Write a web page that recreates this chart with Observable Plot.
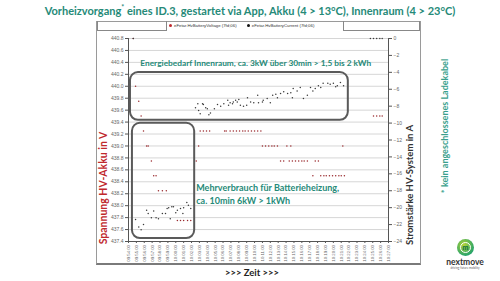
<!DOCTYPE html>
<html><head><meta charset="utf-8">
<script src="https://cdn.jsdelivr.net/npm/d3@7"></script>
<script src="https://cdn.jsdelivr.net/npm/@observablehq/plot@0.6"></script>
<style>
html,body{margin:0;padding:0;background:#fff;}
body{width:500px;height:281px;position:relative;overflow:hidden;font-family:Lato,"Open Sans",sans-serif;}
.abs{position:absolute;white-space:nowrap;}
#title{left:0;width:500px;top:4px;text-align:center;font-weight:700;font-size:11px;color:#268a78;}
#title sup{font-size:7px;line-height:0;}
#frame{left:96px;top:21px;width:323px;height:241px;border:1px solid #9a9a9a;border-bottom:2px solid #7a7a7a;}
#legL{left:97px;top:21px;width:68px;height:9px;border:1px solid #888;border-top:none;}
#legR{left:343px;top:21px;width:75px;height:9px;border:1px solid #888;border-top:none;}
#legend{left:166px;top:22px;height:8px;font-family:"Liberation Sans",Arial,sans-serif;font-size:4.3px;color:#333;line-height:8px;}
#legend span.d{display:inline-block;width:3px;height:3px;border-radius:50%;margin:0 2px 0 3px;vertical-align:middle;}
.rot{transform:translate(-50%,-50%) rotate(-90deg);font-weight:700;}
#ylabL{left:103px;top:188px;font-size:10.5px;color:#c0282d;}
#ylabR{left:409px;top:185px;font-size:9.5px;color:#333;}
#note{left:444px;top:126px;font-size:9px;color:#3a9f8c;}
#zeit{left:252px;top:272px;transform:translate(-50%,-50%);font-weight:700;font-size:9.5px;color:#222;}
#chart{position:absolute;left:0;top:0;width:500px;height:281px;}
#chart > svg{position:absolute;left:0;top:0;}
#logo{left:457px;top:239px;width:17px;height:17px;border-radius:50%;background:radial-gradient(circle at 40% 35%,#b5d334,#2aa56a 70%,#138a5e);}
#logoIn{left:460px;top:242px;width:9px;height:9px;border-radius:50%;border:1.5px solid #fff;font:700 7px/9px Lato;color:#0c6b45;text-align:center;}
#brand{left:465px;top:262px;transform:translate(-50%,-50%);font-weight:700;font-size:8.5px;color:#333;}
#tag{left:465px;top:268px;transform:translate(-50%,-50%);font-size:3px;color:#666;}
</style></head><body>
<div id="title" class="abs">Vorheizvorgang<sup>*</sup> eines ID.3, gestartet via App, Akku (4 &gt; 13°C), Innenraum (4 &gt; 23°C)</div>
<div id="frame" class="abs"></div>
<div id="legL" class="abs"></div>
<div id="legR" class="abs"></div>
<div id="legend" class="abs"></div>
<div id="chart"></div>
<div id="ylabL" class="abs rot">Spannung HV-Akku in V</div>
<div id="ylabR" class="abs rot">Stromstärke HV-System in A</div>
<div id="note" class="abs rot" style="font-weight:700">* kein angeschlossenes Ladekabel</div>
<div id="zeit" class="abs">&gt;&gt;&gt; Zeit &gt;&gt;&gt;</div>
<div id="logo" class="abs"></div>
<div id="logoIn" class="abs">m</div>
<div id="brand" class="abs">nextmove</div>
<div id="tag" class="abs">driving future mobility</div>
<script>
// ---- data ----
const xTickLabels = ["09:54:00","09:55:00","09:56:00","09:57:00","09:58:00","09:59:00","10:00:00","10:01:00","10:02:00","10:03:00","10:04:00","10:05:00","10:06:00","10:07:00","10:08:00","10:09:00","10:10:00","10:11:00","10:12:00","10:13:00","10:14:00","10:15:00","10:16:00","10:17:00","10:18:00","10:19:00","10:20:00","10:21:00","10:22:00","10:23:00","10:24:00","10:25:00","10:26:00","10:27:00"];
const xTickPos = [0,1,2,3,4,5,6,7,8,9,10,11,12,13,14,15,16,17,18,19,20,21,22,23,24,25,26,27,28,29,30,31,32,33];
const voltTicks = [437.4,437.6,437.8,438.0,438.2,438.4,438.6,438.8,439.0,439.2,439.4,439.6,439.8,440.0,440.2,440.4,440.6,440.8];
const currTicks = [0,-2,-4,-6,-8,-10,-12,-14,-16,-18,-20,-22,-24];
const seriesNames = ["eFetar.HvBatteryVoltage (7fd;06)","eFetar.HvBatteryCurrent (7fd;06)"];

// minutes after 09:54:00
const voltTime = [0.6,0.9,1.3,1.6,1.9,2.3,2.5,2.9,3.2,3.5,3.8,4.3,4.8,6.2,6.6,7.0,7.5,7.9,8.6,8.9,9.1,9.5,9.9,10.3,12.2,12.4,12.9,13.3,13.7,14.1,14.5,14.8,15.2,15.6,16.0,16.4,16.8,17.0,17.4,17.8,18.2,18.5,18.9,19.3,19.7,20.1,20.4,20.6,20.8,21.2,21.6,22.0,22.3,22.7,23.4,23.7,24.1,24.4,24.8,25.1,25.5,25.9,26.3,26.7,27.0,27.2,27.4,31.1,31.5,31.9,32.2];
const voltValue = [440.8,440.0,439.75,439.5,439.25,439.0,439.0,438.75,438.5,438.5,438.25,438.25,438.25,437.75,437.75,437.75,437.75,437.75,438.75,439.0,
 439.25,439.25,439.25,439.25,439.25,439.25,439.25,439.25,439.25,439.25,439.25,439.25,439.25,439.25,439.25,439.25,439.25,
 439.0,439.0,439.0,439.0,439.0,439.0,
 438.75,438.75,439.0,438.75,439.0,438.75,438.75,438.75,438.75,438.75,438.75,438.5,438.75,438.75,438.5,438.5,438.5,438.5,438.5,438.5,438.5,438.5,439.0,438.5,
 439.5,439.5,439.5,439.5];
const currTime = [0.6,0.9,1.3,1.6,1.9,2.3,2.5,2.9,3.2,3.5,3.8,4.3,4.7,4.9,5.1,5.3,5.5,5.7,6.0,6.2,6.6,6.9,7.0,7.4,7.6,7.9,
 8.5,8.8,8.9,9.1,9.4,9.5,9.8,10.0,10.2,10.4,10.9,11.3,11.7,12.1,12.6,12.7,12.9,13.2,13.3,13.6,13.8,14.0,14.2,14.6,15.0,15.1,15.5,15.9,16.4,16.5,17.0,17.1,17.6,18.0,18.3,18.7,18.9,19.3,19.7,20.2,20.6,20.8,20.9,21.4,21.8,22.2,22.7,23.1,23.4,23.7,24.1,24.4,24.7,25.3,25.6,26.0,26.3,26.5,26.9,27.3,
 30.7,31.1,31.5,31.9,32.2];
const currValue = [0,-21.4,-22.3,-22.6,-22.0,-20.3,-20.7,-21.2,-20.4,-21.2,-21.3,-20.7,-20.7,-20.1,-20.0,-21.3,-19.9,-19.9,-20.6,-20.3,-20.1,-20.7,-20.0,-19.4,-19.7,-20.1,
 -8.2,-7.7,-8.5,-8.9,-7.7,-7.8,-8.2,-8.3,-9.0,-8.8,-8.3,-7.8,-8.0,-7.7,-7.3,-7.9,-7.6,-7.7,-7.5,-7.3,-7.5,-7.2,-7.9,-8.0,-7.9,-7.0,-7.5,-7.6,-6.7,-7.6,-7.5,-7.3,-7.1,-7.6,-6.7,-6.6,-7.0,-6.5,-6.3,-6.5,-6.4,-7.0,-5.9,-6.2,-5.8,-7.1,-6.7,-5.8,-6.2,-5.9,-5.6,-5.8,-5.3,-5.3,-5.4,-5.3,-5.7,-5.6,-5.2,-5.6,
 0,0,0,0,0];

// annotations (data units: minutes, volts)
const annLabels = ["Energiebedarf Innenraum, ca. 3kW über 30min > 1,5 bis 2 kWh","Mehrverbrauch für Batterieheizung,\nca. 10min 6kW > 1kWh"];
const annLabelT = [1.5, 8.6];
const annLabelV = [440.4, 438.2];
const annBoxT1 = [0.25, 0.5], annBoxT2 = [27.9, 8.4];
const annBoxV1 = [439.43, 437.45], annBoxV2 = [440.23, 439.38];

// ---- build ----
const vData = voltTime.map((t,i)=>({t, v: voltValue[i]}));
const cData = currTime.map((t,i)=>({t, c: currValue[i]}));
const boxes = annBoxT1.map((t,i)=>({x1:t, x2:annBoxT2[i], y1:annBoxV1[i], y2:annBoxV2[i]}));
const labels = annLabels.map((s,i)=>({text:s, t:annLabelT[i], v:annLabelV[i], fs: i===0?8.3:9}));

const common = {width:500, height:281, marginLeft:128, marginRight:112, marginTop:38, marginBottom:40,
  style:{background:"transparent", overflow:"visible", fontFamily:"'Liberation Sans',Arial,sans-serif", fontSize:"5px", color:"#666"}};

const p1 = Plot.plot({
  ...common,
  x:{domain:[0,33]},
  y:{domain:[437.4,440.8]},
  marks:[
    Plot.gridY(voltTicks, {stroke:"#d6d6d6", strokeOpacity:1}),
    Plot.axisY(voltTicks, {anchor:"left", tickSize:3, tickPadding:2, tickFormat:d=>d.toFixed(1), label:null, fontSize:5, fill:"#666", stroke:"#555"}),
    Plot.axisX(xTickPos, {anchor:"bottom", tickSize:2, tickPadding:1.5, tickRotate:-90, tickFormat:i=>xTickLabels[i], label:null, fontSize:4.3, fill:"#666", stroke:"#555"}),
    Plot.ruleX([0], {stroke:"#555", strokeWidth:1}),
    Plot.ruleY([437.4], {stroke:"#555", strokeWidth:1}),
    Plot.rect(boxes, {x1:"x1", x2:"x2", y1:"y1", y2:"y2", fill:"none", stroke:"#5a5a5a", strokeWidth:2, rx:8}),
    Plot.dot(vData, {x:"t", y:"v", r:0.75, fill:"#9a2a2e", stroke:null}),
    Plot.text(labels, {x:"t", y:"v", text:"text", textAnchor:"start", fill:"#268a78", fontWeight:"bold", fontFamily:"Lato", fontSize:"fs", lineHeight:1.45})
  ]
});
const p2 = Plot.plot({
  ...common,
  x:{domain:[0,33], axis:null},
  y:{domain:[-24,0]},
  marks:[
    Plot.axisY(currTicks, {anchor:"right", tickSize:3, tickPadding:2, label:null, fontSize:5, fill:"#666", stroke:"#555"}),
    Plot.ruleX([33], {stroke:"#555", strokeWidth:1}),
    Plot.dot(cData, {x:"t", y:"c", r:0.75, fill:"#3a3a3a", stroke:null})
  ]
});
const chart = document.getElementById("chart");
chart.append(p1, p2);

// legend
const leg = document.getElementById("legend");
const colors = ["#c0282d","#111"];
seriesNames.forEach((n,i)=>{
  const d = document.createElement("span"); d.className="d"; d.style.background=colors[i];
  leg.append(d, document.createTextNode(n + "\u00a0\u00a0\u00a0\u00a0\u00a0\u00a0"));
});
</script>
</body></html>
